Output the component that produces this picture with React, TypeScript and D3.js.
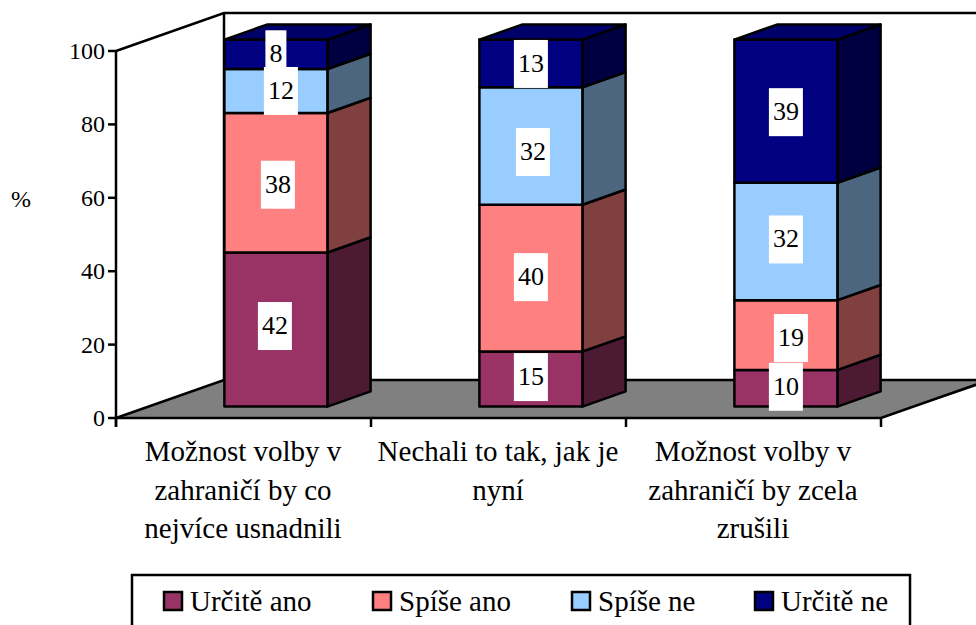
import React from "react";
import { scaleLinear, scaleBand, line as d3line } from "d3";

const categories = [
  ["Možnost volby v", "zahraničí by co", "nejvíce usnadnili"],
  ["Nechali to tak, jak je", "nyní"],
  ["Možnost volby v", "zahraničí by zcela", "zrušili"],
];
const seriesNames = ["Určitě ano", "Spíše ano", "Spíše ne", "Určitě ne"];
const urciteAno = [42, 15, 10];
const spiseAno = [38, 40, 19];
const spiseNe = [12, 32, 32];
const urciteNe = [8, 13, 39];
const yTicks = [0, 20, 40, 60, 80, 100];

const series = [urciteAno, spiseAno, spiseNe, urciteNe];
const frontFill = ["#993366", "#FF8080", "#99CCFF", "#000080"];
const sideFill = ["#4D1A33", "#804040", "#4D6680", "#000040"];
const topFill = "#00006A";
// label nudges relative to the segment centre [dx, dy], by series then category
const nudge = [
  [[-1, -3.5], [0, -2], [0, -1.5]],
  [[2, 2], [0, -1], [5, 3]],
  [[5, 0], [2, 6], [0, -2]],
  [[0, 0], [0, 0.5], [0, 1]],
];
const legendX = [163, 372, 571, 754];

const FONT = "'Liberation Serif','Times New Roman',serif";
const y = scaleLinear().domain([0, 100]).range([418, 51]);
const x = scaleBand().domain(["0", "1", "2"]).range([116, 881]);
const DX = 108;
const DY = -38;
const SW = 2.5;
const px = (xv: number, z: number) => xv + DX * z;
const py = (v: number, z: number) => y(v) + DY * z;
const path = d3line<[number, number]>();
const poly = (pts: [number, number][]) => path(pts) + "Z";

export default function App() {
  const bw = 103;
  const right = 976;
  return (
    <svg width={976} height={625} style={{ position: "absolute", left: 0, top: 0, background: "#fff" }} fontFamily={FONT} fill="#000">
      {/* floor */}
      <path d={poly([[px(116, 0), py(0, 0)], [px(116, 1), py(0, 1)], [right + 20, py(0, 1)], [px(881, 0), py(0, 0)]])} fill="#808080" stroke="none" />
      <path d={path([[px(116, 0), py(0, 0)], [px(116, 1), py(0, 1)], [right, py(0, 1)]])!} fill="none" stroke="#000" strokeWidth={SW} />
      <path d={path([[px(116, 0), py(0, 0)], [px(881, 0), py(0, 0)], [px(881, 1), py(0, 1)]])!} fill="none" stroke="#000" strokeWidth={SW} />
      {/* walls */}
      <path d={path([[px(116, 0), py(100, 0)], [px(116, 1), py(100, 1)], [right, py(100, 1)]])!} fill="none" stroke="#000" strokeWidth={SW} />
      <path d={path([[px(116, 1), py(100, 1)], [px(116, 1), py(0, 1)]])!} fill="none" stroke="#000" strokeWidth={SW} />
      {/* axes */}
      <line x1={116} x2={116} y1={y(100)} y2={y(0) + 9} stroke="#000" strokeWidth={SW} />
      {yTicks.map((t) => (
        <g key={t}>
          <line x1={108} x2={116} y1={y(t)} y2={y(t)} stroke="#000" strokeWidth={SW} />
          <text x={105} y={y(t) + 8} textAnchor="end" fontSize={24}>{t}</text>
        </g>
      ))}
      {[116, 371, 626, 881].map((t) => (
        <line key={t} x1={t} x2={t} y1={y(0)} y2={y(0) + 9} stroke="#000" strokeWidth={SW} />
      ))}
      <text x={21} y={207} textAnchor="middle" fontSize={24}>%</text>
      {categories.map((lines, c) => (
        <g key={c}>
          {lines.map((l, i) => (
            <text key={i} x={x(String(c))! + x.bandwidth() / 2 - 0.5} y={461 + i * 38.5} textAnchor="middle" fontSize={29}>{l}</text>
          ))}
        </g>
      ))}
      {/* bars */}
      {categories.map((_, c) => {
        const xl = x(String(c))! + (x.bandwidth() - bw) / 2;
        const xr = xl + bw;
        let acc = 0;
        const segs = series.map((s, k) => {
          const a = acc;
          acc += s[c];
          return { k, a, b: acc, v: s[c] };
        });
        return (
          <g key={c} stroke="#000" strokeWidth={SW} strokeLinejoin="round">
            {segs.map(({ k, a, b }) => (
              <g key={k}>
                <path d={poly([[px(xr, 0.3), py(a, 0.3)], [px(xr, 0.7), py(a, 0.7)], [px(xr, 0.7), py(b, 0.7)], [px(xr, 0.3), py(b, 0.3)]])} fill={sideFill[k]} />
                <path d={poly([[px(xl, 0.3), py(a, 0.3)], [px(xr, 0.3), py(a, 0.3)], [px(xr, 0.3), py(b, 0.3)], [px(xl, 0.3), py(b, 0.3)]])} fill={frontFill[k]} />
              </g>
            ))}
            <path d={poly([[px(xl, 0.3), py(100, 0.3)], [px(xr, 0.3), py(100, 0.3)], [px(xr, 0.7), py(100, 0.7)], [px(xl, 0.7), py(100, 0.7)]])} fill={topFill} />
          </g>
        );
      })}
      {/* labels */}
      {categories.map((_, c) => {
        const xc = x(String(c))! + x.bandwidth() / 2 + DX * 0.3;
        let acc = 0;
        return (
          <g key={c}>
            {series.map((s, k) => {
              const mid = acc + s[c] / 2;
              acc += s[c];
              const [dx, dy] = nudge[k][c];
              const cx = xc + dx;
              const cy = py(mid, 0.3) + dy;
              const w = s[c] < 10 ? 21 : 34;
              return (
                <g key={k}>
                  <rect x={cx - w / 2} y={cy - 24} width={w} height={48} fill="#fff" />
                  <text x={cx} y={cy + 8} textAnchor="middle" fontSize={26}>{s[c]}</text>
                </g>
              );
            })}
          </g>
        );
      })}
      {/* legend */}
      <rect x={132} y={575} width={778} height={60} fill="#fff" stroke="#000" strokeWidth={SW} />
      {seriesNames.map((n, k) => (
        <g key={n}>
          <rect x={legendX[k] + 1} y={592} width={18} height={18} fill={frontFill[k]} stroke="#000" strokeWidth={SW} />
          <text x={legendX[k] + 27} y={611} fontSize={29}>{n}</text>
        </g>
      ))}
    </svg>
  );
}
